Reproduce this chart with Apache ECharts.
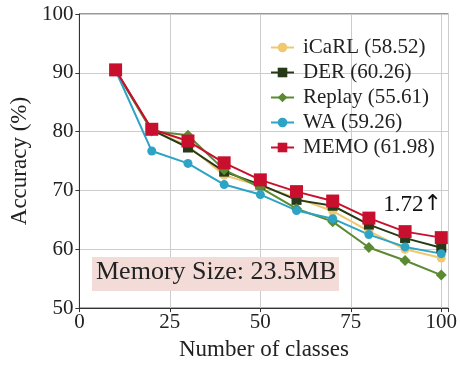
<!DOCTYPE html>
<html>
<head>
<meta charset="utf-8">
<script src="https://cdn.jsdelivr.net/npm/echarts@6/dist/echarts.min.js"></script>
<style>html,body{margin:0;padding:0;background:#fff}#c{width:460px;height:366px}</style>
</head>
<body>
<div id="c"></div>
<script>
const classes = [10, 20, 30, 40, 50, 60, 70, 80, 90, 100];
const icarl  = [90.4, 80.2, 77.6, 72.6, 70.8, 68.7, 66.5, 63.1, 60.0, 58.52];
const der    = [90.4, 80.3, 77.3, 73.2, 71.0, 68.4, 67.4, 64.2, 61.9, 60.26];
const replay = [90.4, 80.1, 79.4, 73.5, 70.5, 66.9, 64.7, 60.3, 58.1, 55.61];
const wa     = [90.4, 76.7, 74.6, 71.0, 69.3, 66.6, 65.2, 62.5, 60.4, 59.26];
const memo   = [90.5, 80.4, 78.4, 74.7, 71.8, 69.8, 68.2, 65.3, 63.0, 61.98];
const names = ['iCaRL (58.52)', 'DER (60.26)', 'Replay (55.61)', 'WA (59.26)', 'MEMO (61.98)'];
const xTicks = [0, 25, 50, 75, 100];
const annotation = 'Memory Size: 23.5MB';
const gainValue = '1.72';
const gainArrow = '\u2191';

const FONT = '"Liberation Serif", "Times New Roman", serif';
const pair = arr => classes.map((x, i) => [x, arr[i]]);

function mk(name, data, color, symbol, size) {
  return {
    name, type: 'line', data: pair(data), symbol, symbolSize: size,
    showSymbol: true, animation: false,
    lineStyle: { color, width: 2 }, itemStyle: { color },
  };
}

const chart = echarts.init(document.getElementById('c'), null, { renderer: 'canvas' });
chart.setOption({
  animation: false,
  backgroundColor: '#fff',
  grid: { left: 78, right: 11, top: 14, bottom: 55, show: true, borderColor: '#333', borderWidth: 1 },
  xAxis: {
    type: 'value', min: 0, max: 102, interval: 25,
    name: 'Number of classes', nameLocation: 'middle', nameGap: 24,
    nameTextStyle: { fontFamily: FONT, fontSize: 23, color: '#222' },
    axisLine: { lineStyle: { color: '#333', width: 1 } },
    axisTick: { show: true, length: 4, lineStyle: { color: '#333' } },
    axisLabel: { fontFamily: FONT, fontSize: 21, color: '#222', margin: 4,
      formatter: v => xTicks.includes(v) ? String(v) : '' },
    splitLine: { show: true, lineStyle: { color: '#ccc', width: 1 } },
  },
  yAxis: {
    type: 'value', min: 50, max: 100, interval: 10,
    name: 'Accuracy (%)', nameLocation: 'middle', nameGap: 44,
    nameTextStyle: { fontFamily: FONT, fontSize: 23, color: '#222' },
    axisLine: { show: true, lineStyle: { color: '#333', width: 1 } },
    axisTick: { show: true, length: 4, lineStyle: { color: '#333' } },
    axisLabel: { fontFamily: FONT, fontSize: 21, color: '#222', margin: 6 },
    splitLine: { show: true, lineStyle: { color: '#ccc', width: 1 } },
  },
  legend: {
    orient: 'vertical', left: 265, top: 32, itemWidth: 23, itemHeight: 12, itemGap: 4,
    textStyle: { fontFamily: FONT, fontSize: 21, color: '#222', padding: [0, 0, 0, 4] },
    data: names,
  },
  series: [
    mk(names[0], icarl, '#F0C870', 'circle', 9),
    mk(names[1], der, '#263A17', 'rect', 10),
    mk(names[2], replay, '#5C8A33', 'diamond', 11),
    mk(names[3], wa, '#2DA3C6', 'circle', 9),
    mk(names[4], memo, '#C8102E', 'rect', 13),
  ],
  graphic: [
    { type: 'rect', left: 92, top: 257, shape: { width: 247, height: 34 }, style: { fill: '#F3DCD8' }, z: 1 },
    { type: 'text', left: 96, top: 259, style: { text: annotation, font: '26px ' + FONT, fill: '#222' }, z: 2 },
    { type: 'text', right: 18, top: 193, z: 2, style: {
      text: '{v|' + gainValue + '}{a|' + gainArrow + '}',
      rich: {
        v: { fontFamily: FONT, fontSize: 23, fill: '#111', color: '#111' },
        a: { fontFamily: '"DejaVu Sans", sans-serif', fontSize: 22, fill: '#111', color: '#111' },
      },
    } },
  ],
});
</script>
</body>
</html>
